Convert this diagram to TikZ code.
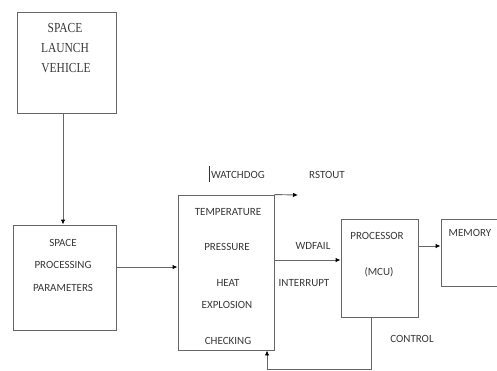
\documentclass[tikz,border=0pt]{standalone}
\usepackage{fontspec}
\setmainfont{Carlito}
\newfontfamily\slvfont{Liberation Serif}
\usetikzlibrary{arrows.meta,positioning}
\definecolor{boxline}{rgb}{0.40,0.40,0.40}
\definecolor{labelgray}{rgb}{0.22,0.22,0.22}
\tikzset{
  blk/.style={draw=boxline, line width=0.9pt, inner sep=0pt},
  link/.style={draw=boxline, line width=0.9pt, -{Latex[length=5pt,width=4.5pt,color=black]}}
}

\begin{document}
\begin{tikzpicture}[x=1pt,y=1pt,
    every node/.style={font=\fontsize{11}{13}\selectfont, text=labelgray}]
        \clip (0,0) rectangle (497,-370);

        % launch vehicle
        \node[blk, minimum width=99pt, minimum height=101pt] (slv) at (66.5,-62.5) {};
        \node[font=\slvfont\fontsize{11.5}{13}\selectfont, yscale=1.2] (slv1) at (65,-28) {SPACE};
        \node[font=\slvfont\fontsize{11.5}{13}\selectfont, yscale=1.2] (slv2) at (65,-48) {LAUNCH};
        \node[font=\slvfont\fontsize{11.5}{13}\selectfont, yscale=1.2] (slv3) at (66,-68) {VEHICLE};

        % parameters
        \node[blk, minimum width=103pt, minimum height=105pt] (spp) at (64.5,-277.5) {};
        \node (spp1) at (63,-243) {SPACE};
        \node (spp2) at (63,-265) {PROCESSING};
        \node (spp3) at (63,-288) {PARAMETERS};

        % sensing block
        \node[blk, minimum width=96pt, minimum height=155pt] (sense) at (226,-272.5) {};
        \node (temp) at (228,-212) {TEMPERATURE};
        \node (pres) at (227,-247) {PRESSURE};
        \node (heat) at (228,-283) {HEAT};
        \node (expl) at (227,-305) {EXPLOSION};
        \node (chk) at (228,-341) {CHECKING};

        % processor and memory
        \node[blk, minimum width=77pt, minimum height=98pt] (mcu) at (379.5,-268) {};
        \node (proc) at (377,-236) {PROCESSOR};
        \node (mcutxt) at (379,-272) {(MCU)};
        \node[blk, minimum width=64pt, minimum height=67pt] (mem) at (473,-252.5) {};
        \node (memtxt) at (470,-233) {MEMORY};

        % signal names
        \node (wdog) at (238,-175) {WATCHDOG};
        \node (rst) at (327,-175) {RSTOUT};
        \node (wdf) at (313,-246) {WDFAIL};
        \node (irq) at (304,-283) {INTERRUPT};
        \node (ctl) at (412,-339) {CONTROL};
        \draw[black!80, line width=1.3pt] ([xshift=2pt]wdog.west |- 0,-166) -- ++(0,-16);

        % connectors
        \coordinate (rstend) at (298,-195);
        \draw[link] (slv.south -| 63,0) -- (spp.north -| 63,0);
        \draw[link] ([yshift=10.5pt]spp.east) coordinate (a) -- (a -| sense.west);
        \draw[link] (sense.north east) -- (rstend);
        \draw[link] ([yshift=12.5pt]sense.east) coordinate (b) -- (b -| mcu.west);
        \draw[link] ([yshift=22pt]mcu.east) coordinate (c) -- (c -| mem.west);
        \draw[link] ([xshift=-8.5pt]mcu.south) -- ++(0,-52) -| ([xshift=41pt]sense.south);
      \end{tikzpicture}
\end{document}
